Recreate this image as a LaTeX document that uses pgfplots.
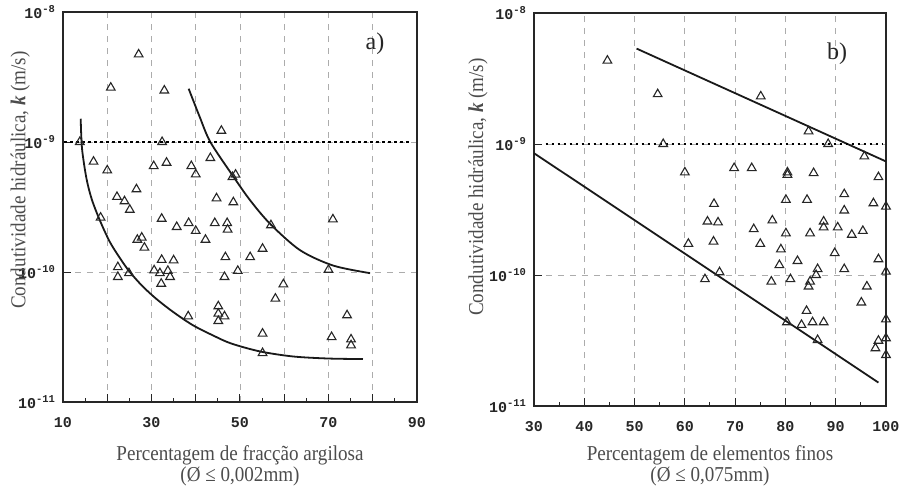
\documentclass[border=0pt]{standalone}
\usepackage{fontspec}
\setmainfont{Liberation Serif}
\setmonofont{Liberation Mono}
\newfontfamily\lblfont[FakeStretch=0.9]{Liberation Serif}
\usepackage{pgfplots}
\pgfplotsset{compat=1.18}

\pgfplotsset{
  kaxis/.style={
    scale only axis, height=195pt,
    ymin=1e-11, ymax=1e-8,
    ytick={1e-11,1e-10,1e-9,1e-8},
    yticklabels={10\textsuperscript{-11},10\textsuperscript{-10},10\textsuperscript{-9},10\textsuperscript{-8}},
    yminorticks=false,
    minor x tick num=1,
    xmajorgrids, ymajorgrids,
    grid style={dashed, gray!65, line width=0.4pt},
    tick pos=left,
    major tick length=4pt, minor tick length=2pt,
    axis line style={black!85, line width=0.6pt},
    tick style={black!85, line width=0.5pt},
    ticklabel style={font=\ttfamily\bfseries\fontsize{7.5}{8}\selectfont, text=black!85},
    xticklabel style={yshift=-4pt},
    label style={font=\lblfont\fontsize{10.6}{9}\selectfont, text=black!70},
    xlabel style={align=center, at={(axis description cs:0.5,0)}, anchor=north},
    ylabel={Condutividade hidráulica, \textbf{\textit{k}} (m/s)},
  },
  tri/.style={only marks, mark=triangle, mark size=2.5pt, mark options={black!85, line width=0.55pt, fill=none}},
  curve/.style={black!90, line width=0.9pt, no marks},
  limit/.style={black, line width=1.2pt, dash pattern=on 1.1pt off 1.9pt, no marks},
}

\begin{document}
\begin{tikzpicture}
% ---------- a) clay fraction ----------
\begin{semilogyaxis}[kaxis, width=177pt,
  xmin=10, xmax=90, xtick={10,20,...,90}, xticklabels={10,,30,,50,,70,,90},
  ylabel style={at={(axis description cs:-0.121,0.569)}, anchor=center},
  xlabel style={yshift=-18pt},
  xlabel={Percentagem de fracção argilosa\\(Ø ≤ 0,002mm)}]
\addplot[tri] coordinates {
 (27.1,4.72e-9) (20.8,2.62e-9) (32.9,2.49e-9) (45.8,1.22e-9) (13.8,1.0e-9)
 (32.4,1.0e-9) (43.3,7.53e-10) (16.9,7.06e-10) (33.4,6.93e-10) (20.0,6.05e-10)
 (30.5,6.53e-10) (39.0,6.53e-10) (40.0,5.64e-10) (48.3,5.38e-10) (49.0,5.61e-10)
 (26.6,4.33e-10) (22.2,3.78e-10) (23.9,3.50e-10) (25.1,3.01e-10) (44.7,3.69e-10)
 (48.5,3.44e-10) (18.5,2.62e-10) (32.3,2.57e-10) (35.7,2.22e-10) (38.4,2.38e-10)
 (40.0,2.07e-10) (44.3,2.38e-10) (47.1,2.38e-10) (47.2,2.12e-10) (42.2,1.77e-10)
 (26.8,1.77e-10) (27.8,1.84e-10) (28.4,1.54e-10) (55.1,1.51e-10) (57.0,2.29e-10)
 (71.0,2.54e-10) (46.7,1.30e-10) (52.3,1.30e-10) (32.3,1.24e-10) (35.0,1.23e-10)
 (22.4,1.09e-10) (24.9,9.8e-11) (30.6,1.03e-10) (31.9,9.8e-11) (33.7,1.02e-10)
 (34.2,9.16e-11) (22.4,9.16e-11) (32.2,8.13e-11) (49.5,1.02e-10) (46.5,9.16e-11)
 (70.0,1.04e-10) (59.8,8.04e-11) (58.0,6.24e-11) (38.3,4.56e-11) (45.1,5.45e-11)
 (46.5,4.56e-11) (45.1,4.78e-11) (45.1,4.20e-11) (74.2,4.65e-11) (55.1,3.36e-11)
 (70.7,3.16e-11) (75.1,3.03e-11) (75.1,2.73e-11) (55.1,2.38e-11)
};
% lower envelope
\addplot[curve, smooth] coordinates {
 (14.0,1.51e-9) (14.3,8.91e-10) (15.3,5.25e-10) (16.5,3.63e-10) (18.3,2.51e-10)
 (20.6,1.70e-10) (23.0,1.26e-10) (25.1,1.0e-10) (28.0,7.76e-11) (31.2,6.17e-11)
 (35.0,4.90e-11) (39.4,3.89e-11) (44.0,3.24e-11) (48.0,2.82e-11) (54.5,2.45e-11)
 (62.0,2.24e-11) (70.0,2.16e-11) (77.8,2.14e-11)
};
% upper envelope
\addplot[curve, smooth] coordinates {
 (38.4,2.57e-9) (40.9,1.56e-9) (43.3,1.0e-9) (48.3,5.55e-10) (52.3,3.56e-10)
 (56.9,2.33e-10) (63.6,1.47e-10) (71.1,1.12e-10) (79.4,9.8e-11)
};
\addplot[limit] coordinates {(10.3,1e-9) (88.5,1e-9)};
\node[font=\fontsize{12}{12}\selectfont, text=black!85] at (axis cs:80.5,5.75e-9) {a)};
\end{semilogyaxis}

% ---------- b) fines ----------
\begin{semilogyaxis}[kaxis, width=176pt, xshift=235.5pt, yshift=-2pt, height=196.5pt,
  xmin=30, xmax=100, xtick={30,40,...,100}, xticklabels={30,40,50,60,70,80,90,100},
  ylabel style={at={(axis description cs:-0.159,0.557)}, anchor=center},
  xlabel style={yshift=-16pt},
  xlabel={Percentagem de elementos finos\\(Ø ≤ 0,075mm)}]
\addplot[tri] coordinates {
 (44.6,4.33e-9) (54.6,2.40e-9) (75.1,2.31e-9) (84.6,1.25e-9) (55.7,1.0e-9)
 (88.5,1.0e-9) (95.7,8.04e-10) (60.0,6.07e-10) (69.8,6.55e-10) (73.3,6.55e-10)
 (80.4,6.07e-10) (80.4,5.82e-10) (85.6,6.0e-10) (98.5,5.58e-10) (91.7,4.14e-10)
 (65.8,3.49e-10) (80.1,3.75e-10) (84.3,3.75e-10) (97.5,3.53e-10) (100,3.33e-10)
 (91.7,3.11e-10) (64.5,2.56e-10) (66.6,2.52e-10) (77.4,2.61e-10) (87.6,2.56e-10)
 (87.6,2.31e-10) (73.7,2.24e-10) (80.1,2.08e-10) (84.9,2.08e-10) (90.4,2.31e-10)
 (93.2,2.03e-10) (95.4,2.17e-10) (60.7,1.73e-10) (65.7,1.80e-10) (75.0,1.73e-10)
 (79.1,1.57e-10) (89.8,1.47e-10) (98.5,1.32e-10) (82.4,1.28e-10) (78.8,1.19e-10)
 (91.7,1.11e-10) (66.9,1.05e-10) (86.4,1.11e-10) (86.1,1.0e-10) (100,1.06e-10)
 (64.0,9.29e-11) (77.2,8.91e-11) (81.0,9.29e-11) (84.9,8.91e-11) (84.6,8.17e-11)
 (96.2,8.17e-11) (95.1,6.17e-11) (84.2,5.32e-11) (80.3,4.36e-11) (83.2,4.16e-11)
 (85.4,4.36e-11) (87.6,4.36e-11) (100,4.59e-11) (86.4,3.19e-11) (98.5,3.15e-11)
 (100,3.29e-11) (97.9,2.76e-11) (100,2.45e-11)
};
\addplot[curve] coordinates {(50.4,5.35e-9) (100,7.36e-10)};
\addplot[curve] coordinates {(30,8.51e-10) (98.5,1.51e-11)};
\addplot[limit] coordinates {(32.3,1e-9) (99.4,1e-9)};
\node[font=\fontsize{12}{12}\selectfont, text=black!85] at (axis cs:90.3,4.9e-9) {b)};
\end{semilogyaxis}
\pgfresetboundingbox
\path[use as bounding box] (-31.5pt,-42pt) rectangle (419.5pt,201pt);
\end{tikzpicture}
\end{document}
